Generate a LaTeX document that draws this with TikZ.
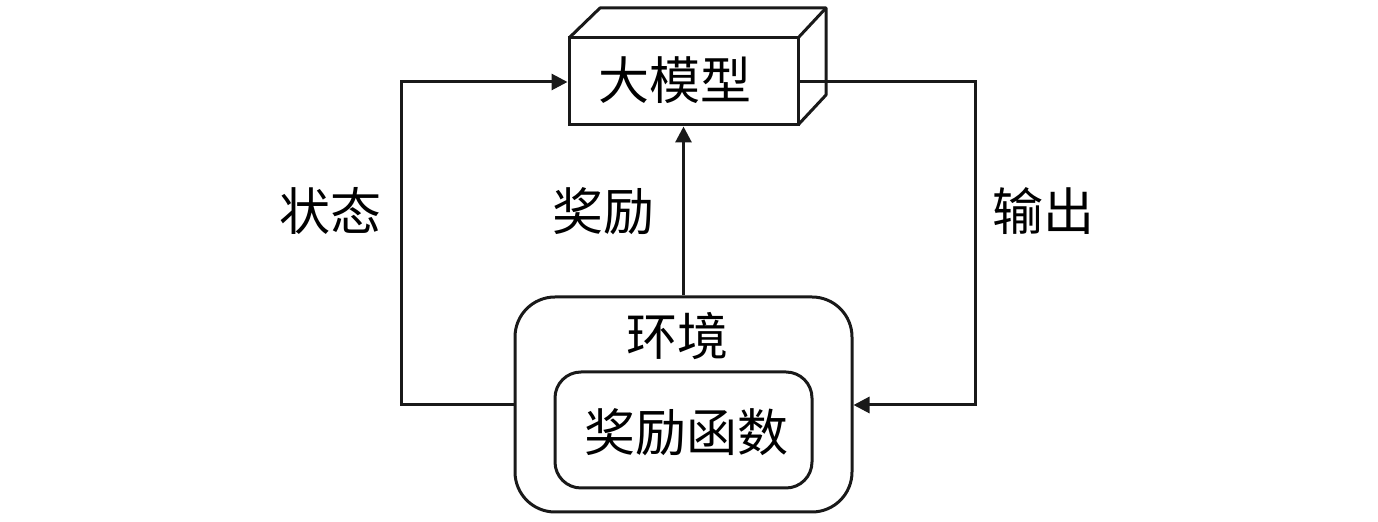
\documentclass[tikz,border=0pt]{standalone}
\usepackage{fontspec}
\newfontfamily\cjk{Noto Sans CJK SC}
\usetikzlibrary{arrows.meta}
\tikzset{
  line/.style={line width=1.5pt, draw=black!90},
  arr/.style={line, -{Triangle[length=8pt,width=8pt]}},
  lbl/.style={font=\cjk\fontsize{25.5}{30}\selectfont, inner sep=0pt},
}
\begin{document}
\begin{tikzpicture}[x=0.5pt,y=-0.5pt]
\useasboundingbox (0,0) rectangle (1378,522);
% cube
\draw[line, line join=round] (569,38) -- (600,8) -- (826,8) -- (826,95) -- (798,125);
\draw[line] (798,38) -- (826,8);
\node[line, draw, rectangle, minimum width=114.5pt, minimum height=43.5pt, inner sep=0pt] (llm) at (683.5,81.5) {};
\node[lbl] at (675,80) {大模型};
% environment
\node[line, draw, rounded corners=20pt, minimum width=168.5pt, minimum height=107.5pt, inner sep=0pt] (env) at (683.5,404.5) {};
\node[line, draw, rounded corners=13pt, minimum width=128.5pt, minimum height=58pt, inner sep=0pt] (rf) at (683.5,430) {};
\node[lbl] (envt) at (677,336) {环境};
\node[lbl] (rft) at (686,432) {奖励函数};
% connectors
\coordinate (lc1) at (401,405);
\coordinate (lc2) at (401,82);
\draw[arr] (env.west |- lc1) -- (lc1) -- (lc2) -- (llm.west |- lc2);
\coordinate (rc1) at (975,82);
\coordinate (rc2) at (975,405);
\draw[arr] (llm.east |- rc1) -- (rc1) -- (rc2) -- (env.east |- rc2);
\draw[arr] (env.north) -- (llm.south);
% labels
\node[lbl] at (330,211) {状态};
\node[lbl] at (603,211) {奖励};
\node[lbl] at (1043,211) {输出};
\end{tikzpicture}
\end{document}
